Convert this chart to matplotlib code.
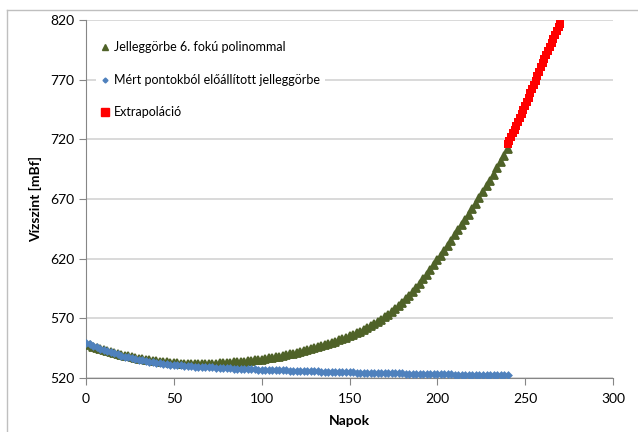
import numpy as np
import matplotlib
matplotlib.use("Agg")
import matplotlib.pyplot as plt
from matplotlib.lines import Line2D

plt.rcParams['font.family'] = ['Lato', 'DejaVu Sans']

# -- data (every 2nd day) --
napok = np.arange(0, 241, 2)

polinom = [548.5, 547.4, 546.3, 545.3, 544.4, 543.5,
           542.7, 541.8, 541.0, 540.2, 539.5,
           538.8, 538.1, 537.5, 536.9, 536.3,
           535.8, 535.3, 534.8, 534.4, 534.0,
           533.7, 533.4, 533.1, 532.8, 532.5,
           532.3, 532.1, 532.0, 531.9, 531.8,
           531.7, 531.7, 531.7, 531.7, 531.8,
           531.9, 532.0, 532.2, 532.3, 532.5,
           532.7, 533.0, 533.2, 533.5, 533.8,
           534.1, 534.4, 534.8, 535.1, 535.5,
           536.0, 536.4, 536.9, 537.4, 538.0,
           538.6, 539.2, 539.8, 540.4, 541.0,
           541.7, 542.5, 543.3, 544.1, 545.0,
           545.8, 546.7, 547.6, 548.5, 549.5,
           550.5, 551.6, 552.7, 553.8, 555.0,
           556.2, 557.5, 558.9, 560.4, 562.0,
           563.6, 565.3, 567.1, 569.0, 571.0,
           573.1, 575.3, 577.6, 580.2, 583.0,
           585.9, 588.9, 592.0, 595.4, 599.0,
           602.7, 606.5, 610.4, 614.4, 618.5,
           622.6, 626.8, 631.0, 635.2, 639.5,
           643.8, 648.1, 652.5, 657.0, 661.5,
           666.2, 670.9, 675.7, 680.6, 685.5,
           690.5, 695.6, 700.8, 706.1, 711.5]

mert = [549.5, 548.3, 547.0, 545.8, 544.6, 543.5,
        542.5, 541.5, 540.6, 539.7, 538.8,
        538.0, 537.3, 536.6, 535.9, 535.3,
        534.7, 534.2, 533.7, 533.2, 532.8,
        532.4, 532.0, 531.6, 531.3, 531.0,
        530.7, 530.5, 530.2, 530.0, 529.8,
        529.6, 529.4, 529.2, 529.1, 528.9,
        528.8, 528.6, 528.5, 528.3, 528.2,
        528.1, 527.9, 527.8, 527.7, 527.6,
        527.5, 527.4, 527.2, 527.1, 527.0,
        526.9, 526.8, 526.7, 526.6, 526.5,
        526.4, 526.3, 526.2, 526.1, 526.0,
        525.9, 525.8, 525.8, 525.7, 525.6,
        525.5, 525.4, 525.4, 525.3, 525.2,
        525.1, 525.0, 525.0, 524.9, 524.8,
        524.7, 524.6, 524.6, 524.5, 524.4,
        524.3, 524.3, 524.2, 524.2, 524.1,
        524.0, 524.0, 523.9, 523.9, 523.8,
        523.7, 523.7, 523.6, 523.6, 523.5,
        523.4, 523.4, 523.3, 523.3, 523.2,
        523.1, 523.1, 523.0, 523.0, 522.9,
        522.8, 522.8, 522.7, 522.7, 522.6,
        522.5, 522.5, 522.4, 522.4, 522.3,
        522.3, 522.2, 522.2, 522.1, 522.1]

# extrapolation, daily values
napok_extra = np.arange(240, 271)
extrapolacio = [716.0, 719.0, 722.0, 725.0, 728.0, 731.2, 734.5, 737.7,
                741.0, 744.5, 748.0, 751.5, 755.0, 758.5, 762.0, 765.5,
                769.0, 772.7, 776.5, 780.2, 784.0, 787.4, 790.8, 794.2,
                797.6, 801.0, 804.4, 807.8, 811.2, 814.2, 817.0]

labels = ['Jelleggörbe 6. fokú polinommal',
          'Mért pontokból előállított jelleggörbe',
          'Extrapoláció']

fig = plt.figure(figsize=(6.38, 4.32), dpi=100)
ax = fig.add_axes([86/638, 1 - 378/432, (613 - 86)/638, (378 - 20)/432])

ax.plot(napok, polinom, ls='none', marker='^', ms=5.6, color='#4F6228',
        mec='#4F6228', mew=1.3, zorder=3)
ax.plot(napok, mert, ls='none', marker='D', ms=3.0, color='#4F81BD',
        mec='#4F81BD', mew=1.5, zorder=4)
ax.plot(napok_extra, extrapolacio, ls='none', marker='s', ms=5.8,
        color='#FF0000', mec='#FF0000', mew=0, zorder=5, clip_on=False)

ax.set_xlim(0, 300)
ax.set_ylim(520, 820)
ax.set_xticks(np.arange(0, 301, 50))
ax.set_yticks(np.arange(520, 821, 50))
ax.yaxis.grid(True, color='#D0D0D0', lw=1.1)
ax.set_axisbelow(True)
for s in ['top', 'right']:
    ax.spines[s].set_visible(False)
for s in ['left', 'bottom']:
    ax.spines[s].set_color('#868686')
ax.tick_params(colors='#868686', length=5, labelcolor='black', labelsize=10)
ax.tick_params(axis='x', pad=6)

ax.set_xlabel('Napok', fontweight='bold', fontsize=10, labelpad=7)
ax.set_ylabel('Vízszint [mBf]', fontweight='bold', fontsize=10, labelpad=6)

handles = [
    Line2D([], [], ls='none', marker='^', ms=5, color='#4F6228'),
    Line2D([], [], ls='none', marker='D', ms=2.5, color='#4F81BD'),
    Line2D([], [], ls='none', marker='s', ms=5.5, color='#FF0000'),
]
leg = ax.legend(handles, labels, loc='upper left', bbox_to_anchor=(90/638, 1 - 30/432),
                bbox_transform=fig.transFigure, frameon=True, facecolor='white',
                edgecolor='white', framealpha=1, fontsize=9, handlelength=0.6,
                handletextpad=0.4, labelspacing=1.65, borderpad=0.4)
leg.get_frame().set_linewidth(0)

# outer chart border
fig.add_artist(Line2D([7/638, 7/638], [0, 1 - 10/432], color='#BFBFBF', lw=1,
                      transform=fig.transFigure))
fig.add_artist(Line2D([7/638, 1], [1 - 10/432, 1 - 10/432], color='#BFBFBF', lw=1,
                      transform=fig.transFigure))

fig.savefig('out.png', dpi=100)
